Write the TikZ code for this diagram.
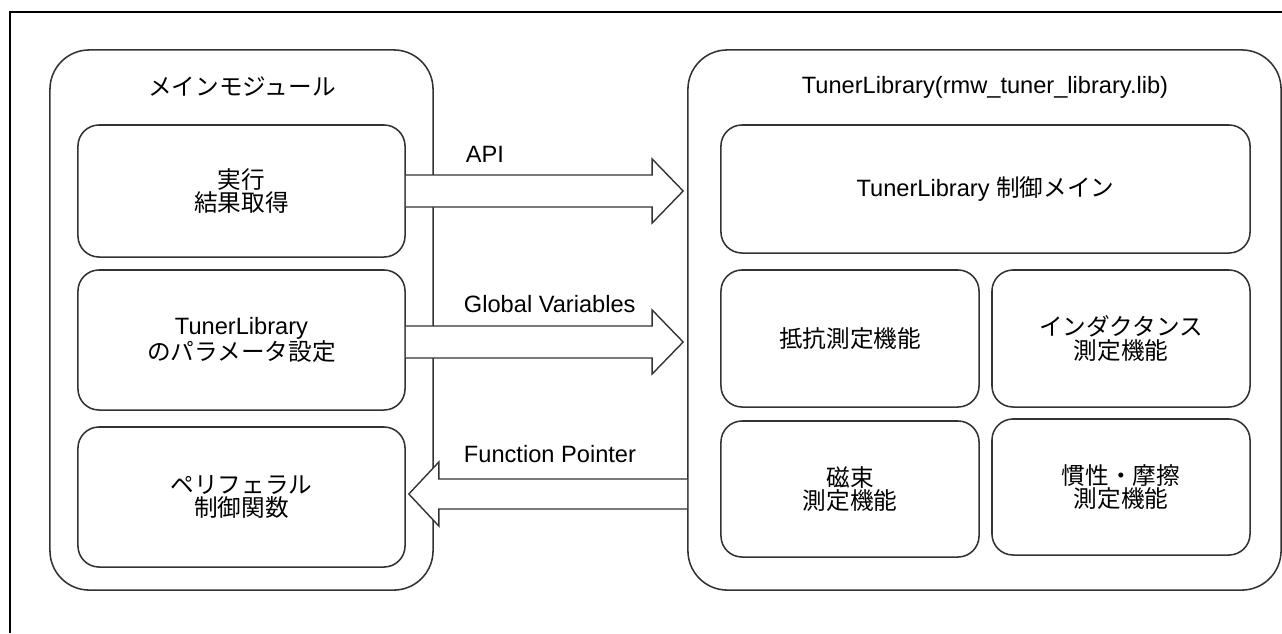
\documentclass[tikz,border=0pt]{standalone}
\usepackage{fontspec}
\setmainfont{Liberation Sans}
\newfontfamily\jp{Noto Sans CJK JP}
\usetikzlibrary{calc}
\definecolor{edge}{HTML}{333333}
\definecolor{frame}{HTML}{000000}
\tikzset{module/.style={draw=edge,line width=1.1pt,rounded corners=28pt,minimum height=13.5cm},unit/.style={draw=edge,line width=1.1pt,rounded corners=15pt,align=center,inner sep=0pt},jtext/.style={font=\jp\fontsize{16.8}{16.5}\selectfont},fat/.style={draw=edge,line width=1pt,fill=white,line join=miter},lbl/.style={anchor=base west}}

\begin{document}
\begin{tikzpicture}[x=0.025cm,y=-0.025cm,font=\fontsize{16.8}{16.5}\selectfont]
\useasboundingbox (0,0) rectangle (1282,633);
\draw[frame,line width=1.6pt] (10,633) |- (1282,12);
% modules
\node[module,minimum width=9.575cm] (mainmod) at (241.5,320) {};
\node[module,minimum width=14.825cm] (libmod) at (984.5,320) {};
\node[jtext] (maintitle) at (242,87) {メインモジュール};
\node (libtitle) at (985,87) {TunerLibrary(rmw\_tuner\_library.lib)};
% main module units
\node[unit,jtext,minimum width=8.175cm,minimum height=3.3cm] (exec) at (241.5,191) {実行\\結果取得};
\node[unit,minimum width=8.175cm,minimum height=3.5cm] (param) at (241.5,340) {TunerLibrary\\{\jp のパラメータ設定}};
\node[unit,jtext,minimum width=8.175cm,minimum height=3.5cm] (periph) at (241.5,497) {ペリフェラル\\制御関数};
% library units
\node[unit,minimum width=13.225cm,minimum height=3.2cm] (ctrl) at (985.5,189) {TunerLibrary {\jp 制御メイン}};
\node[unit,jtext,minimum width=6.45cm,minimum height=3.425cm] (resist) at (850,338.5) {抵抗測定機能};
\node[unit,jtext,minimum width=6.45cm,minimum height=3.425cm] (induct) at (1121,338.5) {インダクタンス\\測定機能};
\node[unit,jtext,minimum width=6.45cm,minimum height=3.4cm] (flux) at (850,489) {磁束\\測定機能};
\node[unit,jtext,minimum width=6.45cm,minimum height=3.4cm] (inertia) at (1121,487) {慣性・摩擦\\測定機能};
% interfaces
\draw[fat] ($(exec.east)+(0,-16)$) -- ($(exec.east -| libmod.west)+(-35,-16)$) -- ++(0,-16) -- ($(exec.east -| libmod.west)+(-4,0)$) -- ($(exec.east -| libmod.west)+(-35,32)$) -- ++(0,-16) -- ($(exec.east)+(0,16)$);
\draw[fat] ($(param.east)+(0,-14)$) -- ($(param.east -| libmod.west)+(-35,-14)$) -- ++(0,-16) -- ($(param.east -| libmod.west)+(-4,2)$) -- ($(param.east -| libmod.west)+(-35,34)$) -- ++(0,-16) -- ($(param.east)+(0,18)$);
\draw[fat] ($(periph.east -| libmod.west)+(0,-18)$) -- ($(periph.east)+(33,-18)$) -- ++(0,-17) -- ($(periph.east)+(3,-3)$) -- ($(periph.east)+(33,29)$) -- ++(0,-17) -- ($(periph.east -| libmod.west)+(0,12)$);
\node[lbl] (apilbl) at (461,162) {API};
\node[lbl] (gvlbl) at (459,312) {Global Variables};
\node[lbl] (fplbl) at (459,462) {Function Pointer};
\end{tikzpicture}
\end{document}
